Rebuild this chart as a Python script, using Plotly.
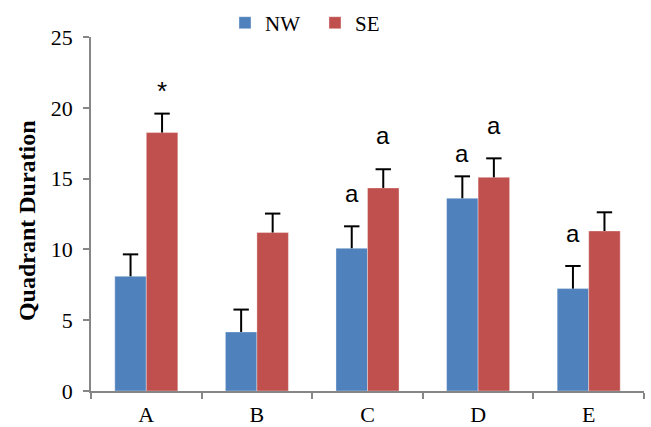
import plotly.graph_objects as go

categories = ["A", "B", "C", "D", "E"]
nw_values = [8.1, 4.17, 10.08, 13.61, 7.23]
se_values = [18.25, 11.19, 14.34, 15.09, 11.3]
nw_errors = [1.55, 1.58, 1.55, 1.55, 1.6]
se_errors = [1.34, 1.34, 1.32, 1.34, 1.32]
series_names = ["NW", "SE"]
y_ticks = [0, 5, 10, 15, 20, 25]
y_title = "Quadrant Duration"

# significance marks: (category, series index, text, gap above error bar)
marks = [
    ("A", 1, "*", 0.4),
    ("C", 0, "a", 1.2),
    ("C", 1, "a", 1.28),
    ("D", 0, "a", 0.55),
    ("D", 1, "a", 1.2),
    ("E", 0, "a", 1.2),
]

BLUE = "#4F81BD"
RED = "#C0504D"
AXIS = "#868686"
SERIF = "Liberation Serif, Times New Roman, serif"
SANS = "Liberation Sans, Arial, sans-serif"
bargap = 0.43

fig = go.Figure()
for name, vals, errs, col in [
    (series_names[0], nw_values, nw_errors, BLUE),
    (series_names[1], se_values, se_errors, RED),
]:
    fig.add_trace(go.Bar(
        x=categories, y=vals, name=name, offsetgroup=name,
        marker=dict(color=col, line=dict(color="rgba(255,255,255,0.35)", width=1)),
        error_y=dict(type="data", symmetric=False, array=errs,
                     arrayminus=[0] * len(errs), color="black",
                     thickness=2, width=0),
    ))
for name, vals, errs in [
    (series_names[0], nw_values, nw_errors),
    (series_names[1], se_values, se_errors),
]:
    fig.add_trace(go.Scatter(
        x=categories, y=[v + e for v, e in zip(vals, errs)],
        offsetgroup=name, mode="markers", showlegend=False, hoverinfo="skip",
        marker=dict(symbol="line-ew", size=11, color="black",
                    line=dict(color="black", width=2)),
    ))

half = (1 - bargap) / 4
series_vals = [nw_values, se_values]
series_errs = [nw_errors, se_errors]
for cat, si, txt, gap in marks:
    i = categories.index(cat)
    top = series_vals[si][i] + series_errs[si][i] + gap
    fig.add_annotation(
        x=i + (-half if si == 0 else half), y=top, xref="x", yref="y",
        text=txt, showarrow=False, yanchor="bottom",
        font=dict(family=SANS, size=24 if txt == "a" else 26, color="black"),
    )

fig.add_annotation(
    x=0, y=0.48, xref="paper", yref="paper", xanchor="center", yanchor="middle",
    xshift=-64, text="<b>" + y_title + "</b>", textangle=-90, showarrow=False,
    font=dict(family=SERIF, size=24, color="black"),
)

fig.update_layout(
    width=651, height=427,
    margin=dict(l=91, r=7, t=37, b=36, autoexpand=False),
    paper_bgcolor="white", plot_bgcolor="white",
    barmode="group", bargap=bargap, bargroupgap=0,
    scattermode="group", scattergap=bargap,
    showlegend=True,
    legend=dict(orientation="h", xref="container", yref="container",
                x=0.3456, xanchor="left", y=0.946, yanchor="middle",
                font=dict(family=SERIF, size=21, color="black"),
                entrywidth=45, entrywidthmode="pixels",
                itemwidth=30, bgcolor="rgba(0,0,0,0)"),
    xaxis=dict(
        type="category", categoryorder="array", categoryarray=categories,
        range=[-0.5, len(categories) - 0.5], automargin=False,
        showline=True, linecolor=AXIS, linewidth=1.5,
        ticks="outside", tickson="boundaries", ticklen=6, tickcolor=AXIS, tickwidth=1.5,
        tickfont=dict(family=SERIF, size=22, color="black"), ticklabelstandoff=3,
        showgrid=False, zeroline=False,
    ),
    yaxis=dict(
        range=[0, 25], tickvals=y_ticks, automargin=False,
        showline=True, linecolor=AXIS, linewidth=1.5,
        ticks="outside", ticklen=6, tickcolor=AXIS, tickwidth=1.5,
        tickfont=dict(family=SERIF, size=22, color="black"), ticklabelstandoff=6,
        showgrid=False, zeroline=False,
    ),
)

fig.write_html(
    "out.html",
    config={"displayModeBar": False},
    post_script="document.body.style.margin='0';document.body.style.overflow='hidden';",
)
